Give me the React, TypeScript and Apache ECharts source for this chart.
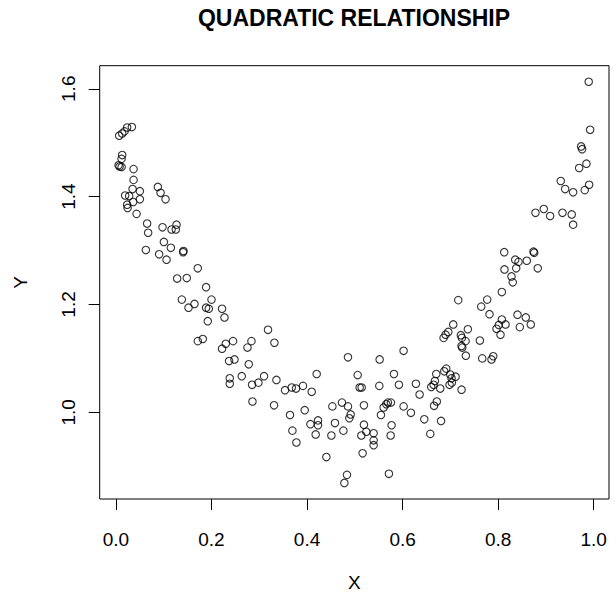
import React, { useEffect, useRef } from "react";
import * as echarts from "echarts";

const chartTitle = "QUADRATIC RELATIONSHIP";
const xAxisName = "X";
const yAxisName = "Y";
const xTicks = [0, 0.2, 0.4, 0.6, 0.8, 1.0];
const yTicks = [1.0, 1.2, 1.4, 1.6];

const xValues = [
  0.0069, 0.0132, 0.0182, 0.0236, 0.0335,
  0.0132, 0.0119, 0.0056, 0.0119, 0.0077,
  0.037, 0.037, 0.0349, 0.0502, 0.0194, 0.0278, 0.0362, 0.0502, 0.0236, 0.0245, 0.0433,
  0.0878, 0.0935, 0.1039, 0.0654, 0.0675, 0.0976, 0.1165, 0.1254, 0.1269, 0.1004, 0.115, 0.1407, 0.1415, 0.0627, 0.0905, 0.106,
  0.1714, 0.1282, 0.1484, 0.1888, 0.138, 0.152, 0.1645, 0.2001, 0.1888, 0.1944, 0.1923, 0.2222, 0.2273, 0.3184,
  0.1714, 0.1819, 0.2222, 0.23, 0.2452, 0.2754, 0.2837, 0.2369, 0.2482, 0.2781, 0.2383, 0.2383, 0.2634, 0.285, 0.2983, 0.3101, 0.2858, 0.3318, 0.336, 0.331,
  0.354, 0.368, 0.377, 0.3916, 0.4098, 0.4202, 0.4857, 0.3644, 0.3952, 0.3694, 0.3778, 0.4071, 0.423, 0.423, 0.4181, 0.4405, 0.4531, 0.4731, 0.4857, 0.4913, 0.4886, 0.4585, 0.451, 0.4761,
  0.506, 0.5101, 0.5143, 0.5191, 0.5191, 0.5137, 0.5241, 0.5394, 0.5394, 0.5394, 0.5164, 0.4836, 0.4782,
  0.552, 0.5513, 0.5819, 0.5923, 0.6021, 0.5547, 0.5603, 0.566, 0.5693, 0.5756, 0.577, 0.575, 0.5714, 0.6021, 0.6174, 0.6279, 0.6356, 0.6454, 0.658, 0.6805, 0.6659, 0.6716, 0.66, 0.6649, 0.6676, 0.6789, 0.6705, 0.6872, 0.6914, 0.6858, 0.69, 0.6956,
  0.8127, 0.8357, 0.8426, 0.8599, 0.8739, 0.8754, 0.8829, 0.8133, 0.8378, 0.8279, 0.8306, 0.8077, 0.7165, 0.7771, 0.7646, 0.7819, 0.8077, 0.8014, 0.7966, 0.8154, 0.8049, 0.8405, 0.8578, 0.8453, 0.8683, 0.706, 0.7366, 0.7219, 0.724, 0.7318, 0.7234, 0.7249, 0.7617, 0.7324, 0.7667, 0.7861, 0.7897, 0.6998, 0.7109, 0.7025, 0.7031, 0.6983, 0.7234,
  0.9895, 0.9925, 0.9737, 0.9757, 0.9695, 0.9848, 0.931, 0.9402, 0.9569, 0.9812, 0.9904, 0.8781, 0.8955, 0.9088, 0.9346, 0.954, 0.9569,
];

const yValues = [
  1.513, 1.517, 1.521, 1.528, 1.529,
  1.477, 1.47, 1.458, 1.455, 1.456,
  1.451, 1.431, 1.414, 1.41, 1.402, 1.401, 1.39, 1.395, 1.385, 1.379, 1.368,
  1.418, 1.407, 1.395, 1.35, 1.333, 1.343, 1.339, 1.339, 1.348, 1.316, 1.305, 1.297, 1.299, 1.301, 1.293, 1.283,
  1.267, 1.248, 1.249, 1.232, 1.209, 1.194, 1.201, 1.209, 1.194, 1.192, 1.169, 1.192, 1.176, 1.153,
  1.132, 1.136, 1.118, 1.127, 1.132, 1.12, 1.132, 1.095, 1.098, 1.089, 1.063, 1.053, 1.067, 1.051, 1.055, 1.067, 1.02, 1.129, 1.06, 1.013,
  1.041, 1.046, 1.044, 1.049, 1.038, 1.071, 1.102, 0.995, 1.004, 0.966, 0.944, 0.978, 0.985, 0.976, 0.959, 0.917, 1.011, 1.018, 1.011, 0.996, 0.989, 0.98, 0.957, 0.966,
  1.069, 1.046, 1.046, 1.013, 0.977, 0.957, 0.964, 0.961, 0.948, 0.939, 0.924, 0.884, 0.869,
  1.098, 1.049, 1.071, 1.051, 1.114, 0.995, 1.009, 1.015, 1.018, 1.018, 0.976, 0.957, 0.886, 1.011, 0.999, 1.053, 1.033, 0.987, 0.96, 0.984, 1.012, 1.02, 1.047, 1.051, 1.058, 1.044, 1.071, 1.076, 1.081, 1.138, 1.144, 1.149,
  1.297, 1.283, 1.279, 1.281, 1.298, 1.296, 1.267, 1.265, 1.267, 1.252, 1.241, 1.223, 1.208, 1.209, 1.196, 1.182, 1.172, 1.162, 1.155, 1.163, 1.144, 1.181, 1.176, 1.158, 1.163, 1.163, 1.154, 1.143, 1.138, 1.132, 1.123, 1.12, 1.133, 1.105, 1.1, 1.098, 1.104, 1.07, 1.066, 1.063, 1.055, 1.051, 1.042,
  1.613, 1.524, 1.493, 1.488, 1.453, 1.461, 1.429, 1.414, 1.408, 1.412, 1.422, 1.37, 1.377, 1.364, 1.37, 1.367, 1.348,
];

const FONT = "'Liberation Sans', Arial, Helvetica, sans-serif";

export default function App() {
  const ref = useRef<HTMLDivElement>(null);

  useEffect(() => {
    if (!ref.current) return;
    const chart = echarts.init(ref.current, null, { renderer: "svg" });
    const data = xValues.map((x, i) => [x, yValues[i]]);
    const xMin = Math.min(...xValues);
    const xMax = Math.max(...xValues);
    const yMin = Math.min(...yValues);
    const yMax = Math.max(...yValues);
    const xPad = (xMax - xMin) * 0.04;
    const yPad = (yMax - yMin) * 0.04;

    chart.setOption({
      animation: false,
      backgroundColor: "#ffffff",
      title: {
        text: chartTitle,
        left: 354,
        top: 6,
        textAlign: "center",
        padding: 0,
        textStyle: { fontFamily: FONT, fontWeight: "bold", fontSize: 23, color: "#000" },
      },
      grid: {
        left: 99.7,
        right: 7,
        top: 65.7,
        bottom: 92.7,
        show: true,
        borderColor: "#000",
        borderWidth: 1,
        backgroundColor: "transparent",
      },
      xAxis: {
        type: "value",
        min: xMin - xPad,
        max: xMax + xPad,
        name: xAxisName,
        nameLocation: "middle",
        nameGap: 74,
        nameTextStyle: { fontFamily: FONT, fontSize: 19, color: "#000" },
        axisLine: { show: false, onZero: false },
        splitLine: { show: false },
        axisTick: {
          show: true,
          inside: false,
          length: 11,
          customValues: xTicks,
          lineStyle: { color: "#000", width: 1 },
        },
        axisLabel: {
          show: true,
          customValues: xTicks,
          margin: 31,
          fontFamily: FONT,
          fontSize: 19,
          color: "#000",
          formatter: (v: number) => v.toFixed(1),
        },
      },
      yAxis: {
        type: "value",
        min: yMin - yPad,
        max: yMax + yPad,
        name: yAxisName,
        nameLocation: "middle",
        nameRotate: 90,
        nameGap: 70,
        nameTextStyle: { fontFamily: FONT, fontSize: 19, color: "#000" },
        axisLine: { show: false, onZero: false },
        splitLine: { show: false },
        axisTick: {
          show: true,
          inside: false,
          length: 11,
          customValues: yTicks,
          lineStyle: { color: "#000", width: 1 },
        },
        axisLabel: {
          show: true,
          customValues: yTicks,
          rotate: 90,
          margin: 22,
          fontFamily: FONT,
          fontSize: 19,
          color: "#000",
          formatter: (v: number) => v.toFixed(1),
        },
      },
      series: [
        {
          type: "scatter",
          data,
          symbol: "circle",
          symbolSize: 7.5,
          itemStyle: { color: "rgba(0,0,0,0)", borderColor: "#000", borderWidth: 1.1 },
          emphasis: { disabled: true },
        },
      ],
    });

    return () => chart.dispose();
  }, []);

  return (
    <div
      ref={ref}
      style={{ position: "absolute", left: 0, top: 0, width: 616, height: 597, background: "#fff" }}
    />
  );
}
